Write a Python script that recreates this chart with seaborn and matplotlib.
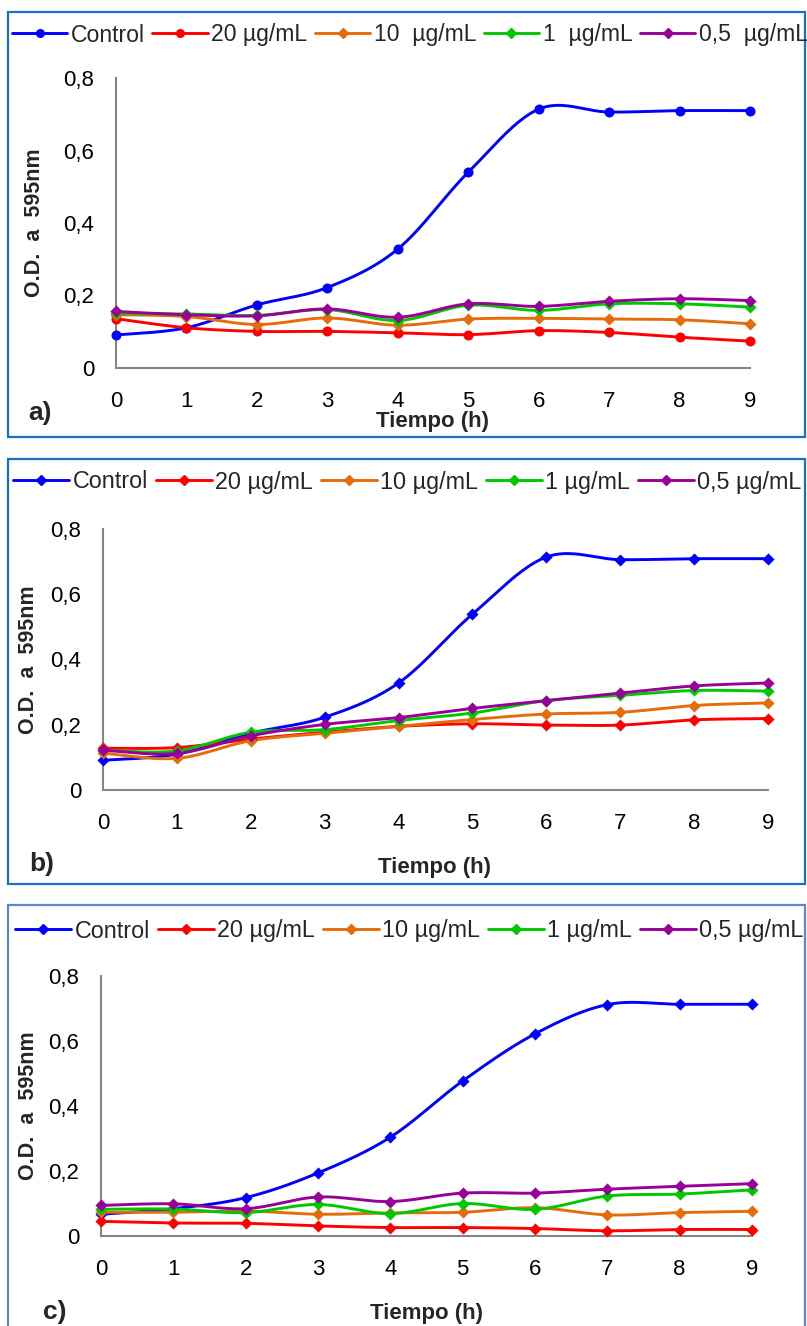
import numpy as np
import pandas as pd
import matplotlib
matplotlib.use("Agg")
import matplotlib.pyplot as plt
import seaborn as sns
from matplotlib.lines import Line2D
from matplotlib.patches import Rectangle

# ---------------- data ----------------
hours = [0, 1, 2, 3, 4, 5, 6, 7, 8, 9]
y_ticks = [0, 0.2, 0.4, 0.6, 0.8]
y_tick_labels = ["0", "0,2", "0,4", "0,6", "0,8"]
x_tick_labels = ["0", "1", "2", "3", "4", "5", "6", "7", "8", "9"]

labels_a = ["Control", "20 µg/mL", "10  µg/mL", "1  µg/mL", "0,5  µg/mL"]
labels_bc = ["Control", "20 µg/mL", "10 µg/mL", "1 µg/mL", "0,5 µg/mL"]
panel_letters = ["a)", "b)", "c)"]

a_control = [0.091, 0.111, 0.174, 0.222, 0.328, 0.540, 0.714, 0.706, 0.710, 0.710]
a_20 = [0.136, 0.111, 0.101, 0.101, 0.097, 0.092, 0.103, 0.098, 0.085, 0.074]
a_10 = [0.147, 0.142, 0.120, 0.138, 0.118, 0.135, 0.137, 0.135, 0.133, 0.122]
a_1 = [0.151, 0.149, 0.145, 0.161, 0.131, 0.173, 0.159, 0.177, 0.177, 0.168]
a_05 = [0.156, 0.147, 0.144, 0.163, 0.140, 0.177, 0.170, 0.184, 0.191, 0.186]

b_control = [0.091, 0.110, 0.174, 0.223, 0.328, 0.539, 0.714, 0.706, 0.709, 0.709]
b_20 = [0.128, 0.130, 0.156, 0.177, 0.195, 0.203, 0.199, 0.199, 0.215, 0.219]
b_10 = [0.113, 0.097, 0.151, 0.174, 0.195, 0.216, 0.233, 0.238, 0.259, 0.267]
b_1 = [0.122, 0.120, 0.177, 0.185, 0.213, 0.236, 0.274, 0.290, 0.305, 0.303]
b_05 = [0.122, 0.112, 0.166, 0.201, 0.222, 0.250, 0.274, 0.297, 0.319, 0.328]

c_control = [0.067, 0.084, 0.118, 0.194, 0.304, 0.477, 0.622, 0.712, 0.713, 0.713]
c_20 = [0.045, 0.040, 0.039, 0.031, 0.026, 0.026, 0.023, 0.016, 0.020, 0.020]
c_10 = [0.073, 0.073, 0.077, 0.067, 0.071, 0.073, 0.087, 0.065, 0.072, 0.076]
c_1 = [0.082, 0.083, 0.072, 0.097, 0.069, 0.100, 0.082, 0.123, 0.129, 0.142]
c_05 = [0.094, 0.099, 0.084, 0.120, 0.106, 0.132, 0.132, 0.144, 0.153, 0.161]

colors = ["#0000FF", "#FF0000", "#E46C0A", "#00C800", "#990099"]

# ---------------- style ----------------
sns.set_style("white")
plt.rcParams["font.family"] = ["Liberation Sans", "DejaVu Sans"]

W, H = 807, 1326
fig = plt.figure(figsize=(W / 100, H / 100), dpi=100)
fig.patch.set_facecolor("white")


def fx(px):
    return px / W


def fy(py):
    return 1 - py / H


def smooth(x, y, n=24):
    P = np.column_stack([np.asarray(x, float), np.asarray(y, float)])
    ext = np.vstack([P[0], P, P[-1]])
    out = []
    for i in range(len(P) - 1):
        p0, p1, p2, p3 = ext[i], ext[i + 1], ext[i + 2], ext[i + 3]
        c1 = p1 + (p2 - p0) / 6
        c2 = p2 - (p3 - p1) / 6
        t = np.linspace(0, 1, n, endpoint=(i == len(P) - 2))[:, None]
        B = (1 - t) ** 3 * p1 + 3 * (1 - t) ** 2 * t * c1 + 3 * (1 - t) * t ** 2 * c2 + t ** 3 * p2
        out.append(B)
    return np.vstack(out)


panels = [
    dict(data=[a_control, a_20, a_10, a_1, a_05], labels=labels_a,
         markers=["o", "o", "D", "D", "D"],
         box=(8, 12, 805, 437), border="#1A6FC4",
         axes=(116, 78, 750, 368), legend_y=35, legend_x=12, legend_fs=16.6,
         ylab_x=35, xlab=(433, 422), letter=(28, 413)),
    dict(data=[b_control, b_20, b_10, b_1, b_05], labels=labels_bc,
         markers=["D"] * 5,
         box=(8, 459, 805, 884), border="#1A6FC4",
         axes=(103, 529, 768, 790), legend_y=482, legend_x=13, legend_fs=16.8,
         ylab_x=29, xlab=(435, 867), letter=(29, 864)),
    dict(data=[c_control, c_20, c_10, c_1, c_05], labels=labels_bc,
         markers=["D"] * 5,
         box=(8, 905, 805, 1340), border="#5A8AC6",
         axes=(101, 976, 752, 1236), legend_y=931, legend_x=15, legend_fs=16.8,
         ylab_x=29, xlab=(427, 1313), letter=(43, 1312)),
]

for idx, p in enumerate(panels):
    x0, y0, x1, y1 = p["box"]
    fig.patches.append(Rectangle((fx(x0), fy(y1)), (x1 - x0) / W, (y1 - y0) / H,
                                 transform=fig.transFigure, fill=False,
                                 edgecolor=p["border"], linewidth=1.6, zorder=0))
    ax0, ay0, ax1, ay1 = p["axes"]
    ax = fig.add_axes([fx(ax0), fy(ay1), (ax1 - ax0) / W, (ay1 - ay0) / H])
    ax.set_facecolor("none")

    handles = []
    for vals, col, mk, lab in zip(p["data"], colors, p["markers"], p["labels"]):
        S = smooth(hours, vals)
        df = pd.DataFrame({"x": S[:, 0], "y": S[:, 1]})
        sns.lineplot(data=df, x="x", y="y", ax=ax, color=col, linewidth=2.1,
                     sort=False, estimator=None, clip_on=False, zorder=3)
        sz = 52 if mk == "o" else 38
        sns.scatterplot(x=hours, y=vals, ax=ax, color=col, marker=mk, s=sz,
                        linewidth=0, clip_on=False, zorder=4)
        handles.append(Line2D([], [], color=col, lw=2.1, marker=mk,
                              markersize=5.5 if mk == "o" else 5, label=lab))

    ax.set_xlim(0, 9)
    ax.set_ylim(0, 0.8)
    ax.set_xticks(hours)
    ax.set_xticklabels(x_tick_labels)
    ax.set_yticks(y_ticks)
    ax.set_yticklabels(y_tick_labels)
    ax.set_xlabel("")
    ax.set_ylabel("")
    for s in ["top", "right"]:
        ax.spines[s].set_visible(False)
    for s in ["left", "bottom"]:
        ax.spines[s].set_color("#868686")
        ax.spines[s].set_linewidth(1.5)
    ax.tick_params(axis="both", which="major", direction="out", length=4.5,
                   width=1.5, color="#868686", labelsize=16, labelcolor="black")
    ax.tick_params(axis="x", pad=12)
    ax.tick_params(axis="y", pad=11)
    ax.grid(False)

    fig.legend(handles=handles, loc="center left",
               bbox_to_anchor=(fx(p["legend_x"]), fy(p["legend_y"])),
               ncol=5, frameon=False, fontsize=p["legend_fs"], handlelength=2.4,
               handletextpad=0.15, columnspacing=0.33, borderaxespad=0,
               borderpad=0)

    fig.text(fx(p["ylab_x"]), fy((ay0 + ay1) / 2), "O.D.  a  595nm", rotation=90,
             ha="center", va="center", fontsize=15.5, fontweight="bold")
    fig.text(fx(p["xlab"][0]), fy(p["xlab"][1]), "Tiempo (h)", ha="center",
             va="center", fontsize=16, fontweight="bold")
    fig.text(fx(p["letter"][0]), fy(p["letter"][1]), panel_letters[idx],
             ha="left", va="center", fontsize=19, fontweight="bold")

fig.savefig("out.png", dpi=100, facecolor="white")
